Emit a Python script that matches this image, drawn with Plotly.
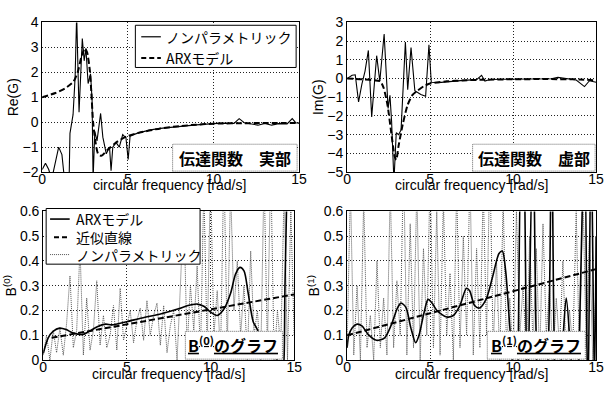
import plotly.graph_objects as go

W, H = 610, 394

# ---------------- data ----------------
x_ticks = [0, 5, 10, 15]
re_ticks = [-2, -1, 0, 1, 2, 3, 4]
im_ticks = [-5, -4, -3, -2, -1, 0, 1, 2, 3]
b_ticks = [0, 0.1, 0.2, 0.3, 0.4, 0.5, 0.6]
b_tick_text = ["0", "0.1", "0.2", "0.3", "0.4", "0.5", "0.6"]

# Re(G): nonparametric
re_np_x = [0, 0.19, 0.38, 0.55, 0.96, 1.15, 1.3, 1.57, 1.62, 1.8, 1.92, 2.01, 2.15, 2.26, 2.34,
           2.45, 2.55, 2.68, 2.82, 2.91, 2.97, 3.07, 3.2, 3.41, 3.54, 3.74, 3.93, 4.02, 4.12,
           4.31, 4.5, 4.7, 4.89, 5.02, 5.13, 5.56, 6.32, 6.9, 8.0, 9.0, 10.0, 10.5, 11.2, 11.5,
           11.8, 12.2, 12.6, 13.0, 13.4, 13.8, 14.3, 14.6, 14.8, 15.0]
re_np_y = [-1.9, -1.65, -1.9, -2.3, -1.0, -1.3, -2.3, -2.3, -0.45, 0.3, 1.8, 4.3, 0.4, 2.46, 3.35,
           2.46, 2.96, 1.55, 1.94, 0.92, -2.3, -0.37, -0.75, 0.35, -0.6, -1.27, -1.0, -1.95, -1.0,
           -0.81, -1.0, -0.5, -0.63, -1.5, -0.56, -0.44, -0.31, -0.25, -0.17, -0.11, -0.06, -0.04,
           -0.05, 0.14, -0.02, -0.08, -0.12, -0.05, -0.12, -0.06, -0.07, 0.14, -0.02, -0.04]
# Re(G): ARX model
re_arx_x = [0, 0.77, 1.34, 1.82, 2.07, 2.3, 2.49, 2.62, 2.78, 2.87, 2.97, 3.1, 3.26, 3.45, 3.83,
            4.4, 4.98, 5.56, 6.9, 8.0, 9.0, 10.0, 12.0, 15.0]
re_arx_y = [1.0, 1.17, 1.36, 1.62, 2.0, 2.65, 2.96, 2.8, 2.08, 1.17, 0.0, -0.76, -1.27, -1.35,
            -1.1, -0.77, -0.56, -0.44, -0.25, -0.16, -0.1, -0.06, -0.04, -0.03]

# Im(G): nonparametric
im_np_x = [0, 0.3, 0.49, 0.69, 0.89, 0.99, 1.08, 1.28, 1.48, 1.78, 1.97, 2.23, 2.47, 2.58, 2.68,
           2.82, 2.96, 3.1, 3.25, 3.51, 3.65, 3.85, 4.08, 4.44, 4.73, 4.93, 5.07, 5.5, 6.0, 7.0,
           7.8, 8.1, 8.3, 8.6, 9.5, 10.5, 11.5, 12.3, 12.7, 13.2, 13.8, 14.3, 14.6, 15.0]
im_np_y = [0.0, 0.17, 0.2, -1.25, -0.3, 0.05, 0.4, 1.5, -2.05, 1.22, -0.15, 2.38, -1.6, -0.9,
           -2.3, -5.5, -2.9, -3.0, -2.75, 1.95, -0.6, 1.65, -0.65, -0.85, -0.95, 1.8, -0.2, -0.22,
           -0.17, -0.1, -0.06, 0.17, -0.14, -0.05, -0.04, -0.02, -0.03, -0.01, 0.06, -0.02, -0.08,
           -0.43, -0.12, -0.2]
# Im(G): ARX model
im_arx_x = [0, 0.5, 1.0, 1.5, 2.0, 2.2, 2.43, 2.66, 2.86, 2.96, 3.1, 3.35, 3.65, 3.94, 4.24, 4.6,
            4.95, 5.5, 6.0, 7.0, 8.0, 10.0, 12.0, 14.0, 15.0]
im_arx_y = [0.0, -0.02, -0.05, -0.08, -0.15, -0.5, -1.4, -2.9, -4.15, -4.35, -3.6, -2.45, -1.4,
            -0.88, -0.65, -0.42, -0.28, -0.2, -0.15, -0.1, -0.07, -0.04, -0.03, -0.05, -0.1]

# B(0) / B(1): frequency grid of the nonparametric estimate
b_freq = [0.0, 0.2, 0.4, 0.6, 0.8, 1.0, 1.2, 1.4, 1.6, 1.8, 2.0, 2.2, 2.4, 2.6, 2.8, 3.0, 3.2,
          3.4, 3.6, 3.8, 4.0, 4.2, 4.4, 4.6, 4.8, 5.0, 5.2, 5.4, 5.6, 5.8, 6.0, 6.2, 6.4, 6.6,
          6.8, 7.0, 7.2, 7.4, 7.6, 7.8, 8.0, 8.2, 8.4, 8.6, 8.8, 9.0, 9.2, 9.4, 9.6, 9.8, 10.0,
          10.2, 10.4, 10.6, 10.8, 11.0, 11.2, 11.4, 11.6, 11.8, 12.0, 12.2, 12.4, 12.6, 12.8,
          13.0, 13.2, 13.4, 13.6, 13.8, 14.0, 14.2, 14.4, 14.6, 14.8, 15.0]
b0_np = [0.02, 0.10, 0.00, 0.12, 0.03, 0.13, 0.02, 0.15, 0.34, 0.05, 0.12, 0.45, 0.02, 0.25,
         0.04, 0.12, 0.32, 0.06, 0.18, 0.05, 0.10, 0.22, 0.04, 0.29, 0.08, 0.14, 0.20, 0.07,
         0.16, 0.21, 0.08, 0.24, 0.10, 0.18, 0.23, 0.06, 0.22, 0.03, 0.14, 0.20, 0.00, 0.30,
         0.62, 0.05, 0.30, 0.12, 0.38, 0.02, 0.70, 0.05, 0.75, 0.10, 0.28, 0.02, 0.80, 0.05,
         0.70, 0.20, 0.40, 0.10, 0.30, 0.00, 0.44, 0.10, 0.20, 0.00, 0.75, 0.05, 0.80, 0.00,
         0.20, 0.05, 0.70, 0.00, 0.60, 0.10]
b1_np = [0.05, 0.70, 0.02, 0.30, 0.00, 0.65, 0.05, 0.18, 0.00, 0.40, 0.05, 0.25, 0.02, 0.70,
         0.05, 0.32, 0.10, 0.80, 0.02, 0.55, 0.05, 0.70, 0.00, 0.45, 0.10, 0.75, 0.05, 0.60,
         0.02, 0.65, 0.10, 0.35, 0.00, 0.70, 0.05, 0.50, 0.10, 0.75, 0.02, 0.45, 0.05, 0.70,
         0.10, 0.80, 0.05, 0.40, 0.00, 0.65, 0.05, 0.25, 0.00, 0.60, 0.10, 0.30, 0.00, 0.50,
         0.05, 0.45, 0.00, 0.55, 0.10, 0.30, 0.00, 0.25, 0.05, 0.40, 0.00, 0.20, 0.05, 0.60,
         0.00, 0.70, 0.05, 0.50, 0.00, 0.30]

# B(0): ARX model and fitted straight line
b0_arx_x = [0, 0.3, 0.59, 0.98, 1.37, 1.76, 2.35, 2.75, 3.23, 3.73, 4.1, 5.0, 5.9, 7.06, 8.04,
            8.6, 9.2, 9.6, 10.0, 10.4, 10.8, 11.2, 11.5, 11.76, 12.0, 12.25, 12.55, 12.75, 13.1,
            13.6, 14.0, 14.3, 14.45, 14.6]
b0_arx_y = [0.026, 0.09, 0.116, 0.129, 0.123, 0.11, 0.103, 0.116, 0.135, 0.145, 0.142, 0.155,
            0.17, 0.187, 0.206, 0.219, 0.226, 0.217, 0.194, 0.18, 0.206, 0.27, 0.348, 0.374,
            0.36, 0.27, 0.155, 0.13, 0.08, 0.03, 0.0, -0.05, 0.3, 0.8]
b0_fit_x = [0.5, 15.0]
b0_fit_y = [0.09, 0.265]

# B(1): ARX model and fitted straight line
b1_arx_x = [0, 0.1, 0.3, 0.6, 0.89, 1.28, 1.77, 2.26, 2.66, 3.05, 3.25, 3.54, 3.84, 4.13, 4.33,
            4.63, 4.88, 5.12, 5.41, 6.0, 6.4, 6.79, 7.19, 7.38, 7.68, 7.97, 8.37, 8.76, 9.15,
            9.35, 9.55, 9.74, 9.94, 10.2, 10.5, 10.65, 10.85, 11.2, 11.6, 12.0, 12.32, 12.6,
            12.9, 13.2, 13.5, 13.8, 14.3, 14.5, 14.7, 14.9, 15.0]
b1_arx_y = [0.05, 0.1, 0.13, 0.145, 0.138, 0.103, 0.08, 0.09, 0.142, 0.213, 0.23, 0.213, 0.13,
            0.07, 0.1, 0.19, 0.245, 0.23, 0.2, 0.174, 0.18, 0.22, 0.29, 0.28, 0.22, 0.21, 0.245,
            0.335, 0.43, 0.44, 0.36, 0.19, 0.0, -0.3, 0.9, 0.8, -0.2, 0.9, -0.2, -0.1, 0.9, -0.1,
            0.0, 0.25, 0.0, -0.2, 0.9, -0.2, 0.9, -0.1, 0.5]
b1_fit_x = [0.0, 15.0]
b1_fit_y = [0.1, 0.367]

x_title = "circular frequency [rad/s]"

# ---------------- figure ----------------
LAT = "Liberation Sans, Arial, Noto Sans CJK JP"
CJK = "Noto Sans CJK JP"
DASH = "6px,3px"

fig = go.Figure()
fig.add_trace(go.Scatter(x=re_np_x, y=re_np_y, mode="lines", name="ノンパラメトリック",
                         line=dict(color="black", width=1.1), xaxis="x", yaxis="y"))
fig.add_trace(go.Scatter(x=re_arx_x, y=re_arx_y, mode="lines", name="ARXモデル",
                         line=dict(color="black", width=2, dash=DASH, shape="spline", smoothing=0.6),
                         xaxis="x", yaxis="y"))
fig.add_trace(go.Scatter(x=im_np_x, y=im_np_y, mode="lines", name="ノンパラメトリック",
                         line=dict(color="black", width=1.1), xaxis="x2", yaxis="y2"))
fig.add_trace(go.Scatter(x=im_arx_x, y=im_arx_y, mode="lines", name="ARXモデル",
                         line=dict(color="black", width=2, dash=DASH, shape="spline", smoothing=0.6),
                         xaxis="x2", yaxis="y2"))
# B(0)
fig.add_trace(go.Scatter(x=b_freq, y=b0_np, mode="lines", name="ノンパラメトリック",
                         line=dict(color="#555", width=1, dash="1px,1px"), xaxis="x3", yaxis="y3"))
fig.add_trace(go.Scatter(x=b0_fit_x, y=b0_fit_y, mode="lines", name="近似直線",
                         line=dict(color="black", width=2, dash=DASH), xaxis="x3", yaxis="y3"))
fig.add_trace(go.Scatter(x=b0_arx_x, y=b0_arx_y, mode="lines", name="ARXモデル",
                         line=dict(color="black", width=1.6, shape="spline", smoothing=0.8),
                         xaxis="x3", yaxis="y3"))
# B(1)
fig.add_trace(go.Scatter(x=b_freq, y=b1_np, mode="lines", name="ノンパラメトリック",
                         line=dict(color="#555", width=1, dash="1px,1px"), xaxis="x4", yaxis="y4"))
fig.add_trace(go.Scatter(x=b1_fit_x, y=b1_fit_y, mode="lines", name="近似直線",
                         line=dict(color="black", width=2, dash=DASH), xaxis="x4", yaxis="y4"))
fig.add_trace(go.Scatter(x=b1_arx_x, y=b1_arx_y, mode="lines", name="ARXモデル",
                         line=dict(color="black", width=1.6, shape="spline", smoothing=0.8),
                         xaxis="x4", yaxis="y4"))


def px_x(v):
    return v / W


def px_y(v):
    return 1 - v / H


common_x = dict(range=[0, 15], tickvals=x_ticks, showline=True, linecolor="black", linewidth=1,
                mirror=True, showgrid=True, gridcolor="#222", griddash="1px,2px", gridwidth=1,
                zeroline=False, ticks="", ticklabelstandoff=-6,
                tickfont=dict(size=14, family=LAT, color="black"))
common_y = dict(showline=True, linecolor="black", linewidth=1, mirror=True, showgrid=True,
                gridcolor="#222", griddash="1px,2px", gridwidth=1, zeroline=False, ticks="",
                tickfont=dict(size=14, family=LAT, color="black"))

top_dom = [px_y(171), px_y(15)]
bot_dom = [px_y(367), px_y(212)]

fig.update_layout(
    width=W, height=H, margin=dict(l=0, r=0, t=0, b=0), autosize=False,
    paper_bgcolor="white", plot_bgcolor="white", showlegend=False,
    font=dict(family=LAT, color="black"),
    xaxis=dict(common_x, domain=[px_x(39), px_x(301)], anchor="y"),
    yaxis=dict(common_y, domain=top_dom, anchor="x", range=[-2, 4], tickvals=re_ticks,
               title=dict(text="Re(G)", font=dict(size=14, family=LAT), standoff=0)),
    xaxis2=dict(common_x, domain=[px_x(350), px_x(604)], anchor="y2"),
    yaxis2=dict(common_y, domain=top_dom, anchor="x2", range=[-5, 3], tickvals=im_ticks,
                title=dict(text="Im(G)", font=dict(size=14, family=LAT), standoff=0)),
    xaxis3=dict(common_x, domain=[px_x(40), px_x(296)], anchor="y3"),
    yaxis3=dict(common_y, domain=bot_dom, anchor="x3", range=[0, 0.6], tickvals=b_ticks,
                ticktext=b_tick_text,
                title=dict(text="B<sup>(0)</sup>", font=dict(size=14, family=LAT), standoff=0)),
    xaxis4=dict(common_x, domain=[px_x(350), px_x(604)], anchor="y4"),
    yaxis4=dict(common_y, domain=bot_dom, anchor="x4", range=[0, 0.6], tickvals=b_ticks,
                ticktext=b_tick_text,
                title=dict(text="B<sup>(1)</sup>", font=dict(size=14, family=LAT), standoff=0)),
)

shapes = []
annotations = []


def rect(x0, y0, x1, y1, dash="solid", color="black"):
    shapes.append(dict(type="rect", xref="paper", yref="paper", x0=px_x(x0), x1=px_x(x1),
                       y0=px_y(y1), y1=px_y(y0), line=dict(color=color, width=1, dash=dash),
                       fillcolor="white", layer="above"))


def sample(x0, x1, y, dash, color="black", width=1.5):
    shapes.append(dict(type="line", xref="paper", yref="paper", x0=px_x(x0), x1=px_x(x1),
                       y0=px_y(y), y1=px_y(y), line=dict(color=color, width=width, dash=dash),
                       layer="above"))


def label(x, y, text, size=14, xanchor="left", family=CJK):
    annotations.append(dict(xref="paper", yref="paper", x=px_x(x), y=px_y(y), text=text,
                            showarrow=False, xanchor=xanchor, yanchor="middle",
                            font=dict(size=size, family=family, color="black")))


# x-axis titles (sit tight under the tick labels as in the reference)
label(169, 184, x_title, xanchor="center", family=LAT)
label(477, 184, x_title, xanchor="center", family=LAT)
label(168, 381, x_title, xanchor="center", family=LAT)
label(477, 381, x_title, xanchor="center", family=LAT)

# legend: top-left
rect(134, 18, 298, 62)
sample(140, 160, 30, "solid", width=1.2)
sample(140, 160, 52, "5px,3px", width=2)
label(163, 30, "ノンパラメトリック")
label(163, 52, "ARXモデル")

# legend: bottom-left
rect(43, 209, 200, 267)
sample(47, 67, 220, "solid", width=1.6)
sample(51, 67, 239, "5px,3px", width=2)
sample(47, 67, 257, "1px,1px", color="#555", width=1)
label(71, 220, "ARXモデル")
label(71, 239, "近似直線")
label(71, 257, "ノンパラメトリック")

# panel captions
rect(172, 142, 299, 170, dash="1px,1px", color="#666")
label(235.5, 156, "<b>伝達関数　実部</b>", size=16, xanchor="center")
rect(478, 142, 603, 170, dash="1px,1px", color="#666")
label(541, 156, "<b>伝達関数　虚部</b>", size=16, xanchor="center")
rect(185, 337, 284, 366, dash="1px,1px", color="#666")
label(234, 351, "<b><u>B<sup>(0)</sup>のグラフ</u></b>", size=16, xanchor="center")
rect(493, 337, 593, 366, dash="1px,1px", color="#666")
label(543, 351, "<b><u>B<sup>(1)</sup>のグラフ</u></b>", size=16, xanchor="center")

fig.update_layout(shapes=shapes, annotations=annotations)
fig.write_html("out.html", config={"displayModeBar": False},
               post_script="document.body.style.margin='0';document.body.style.overflow='hidden';")
